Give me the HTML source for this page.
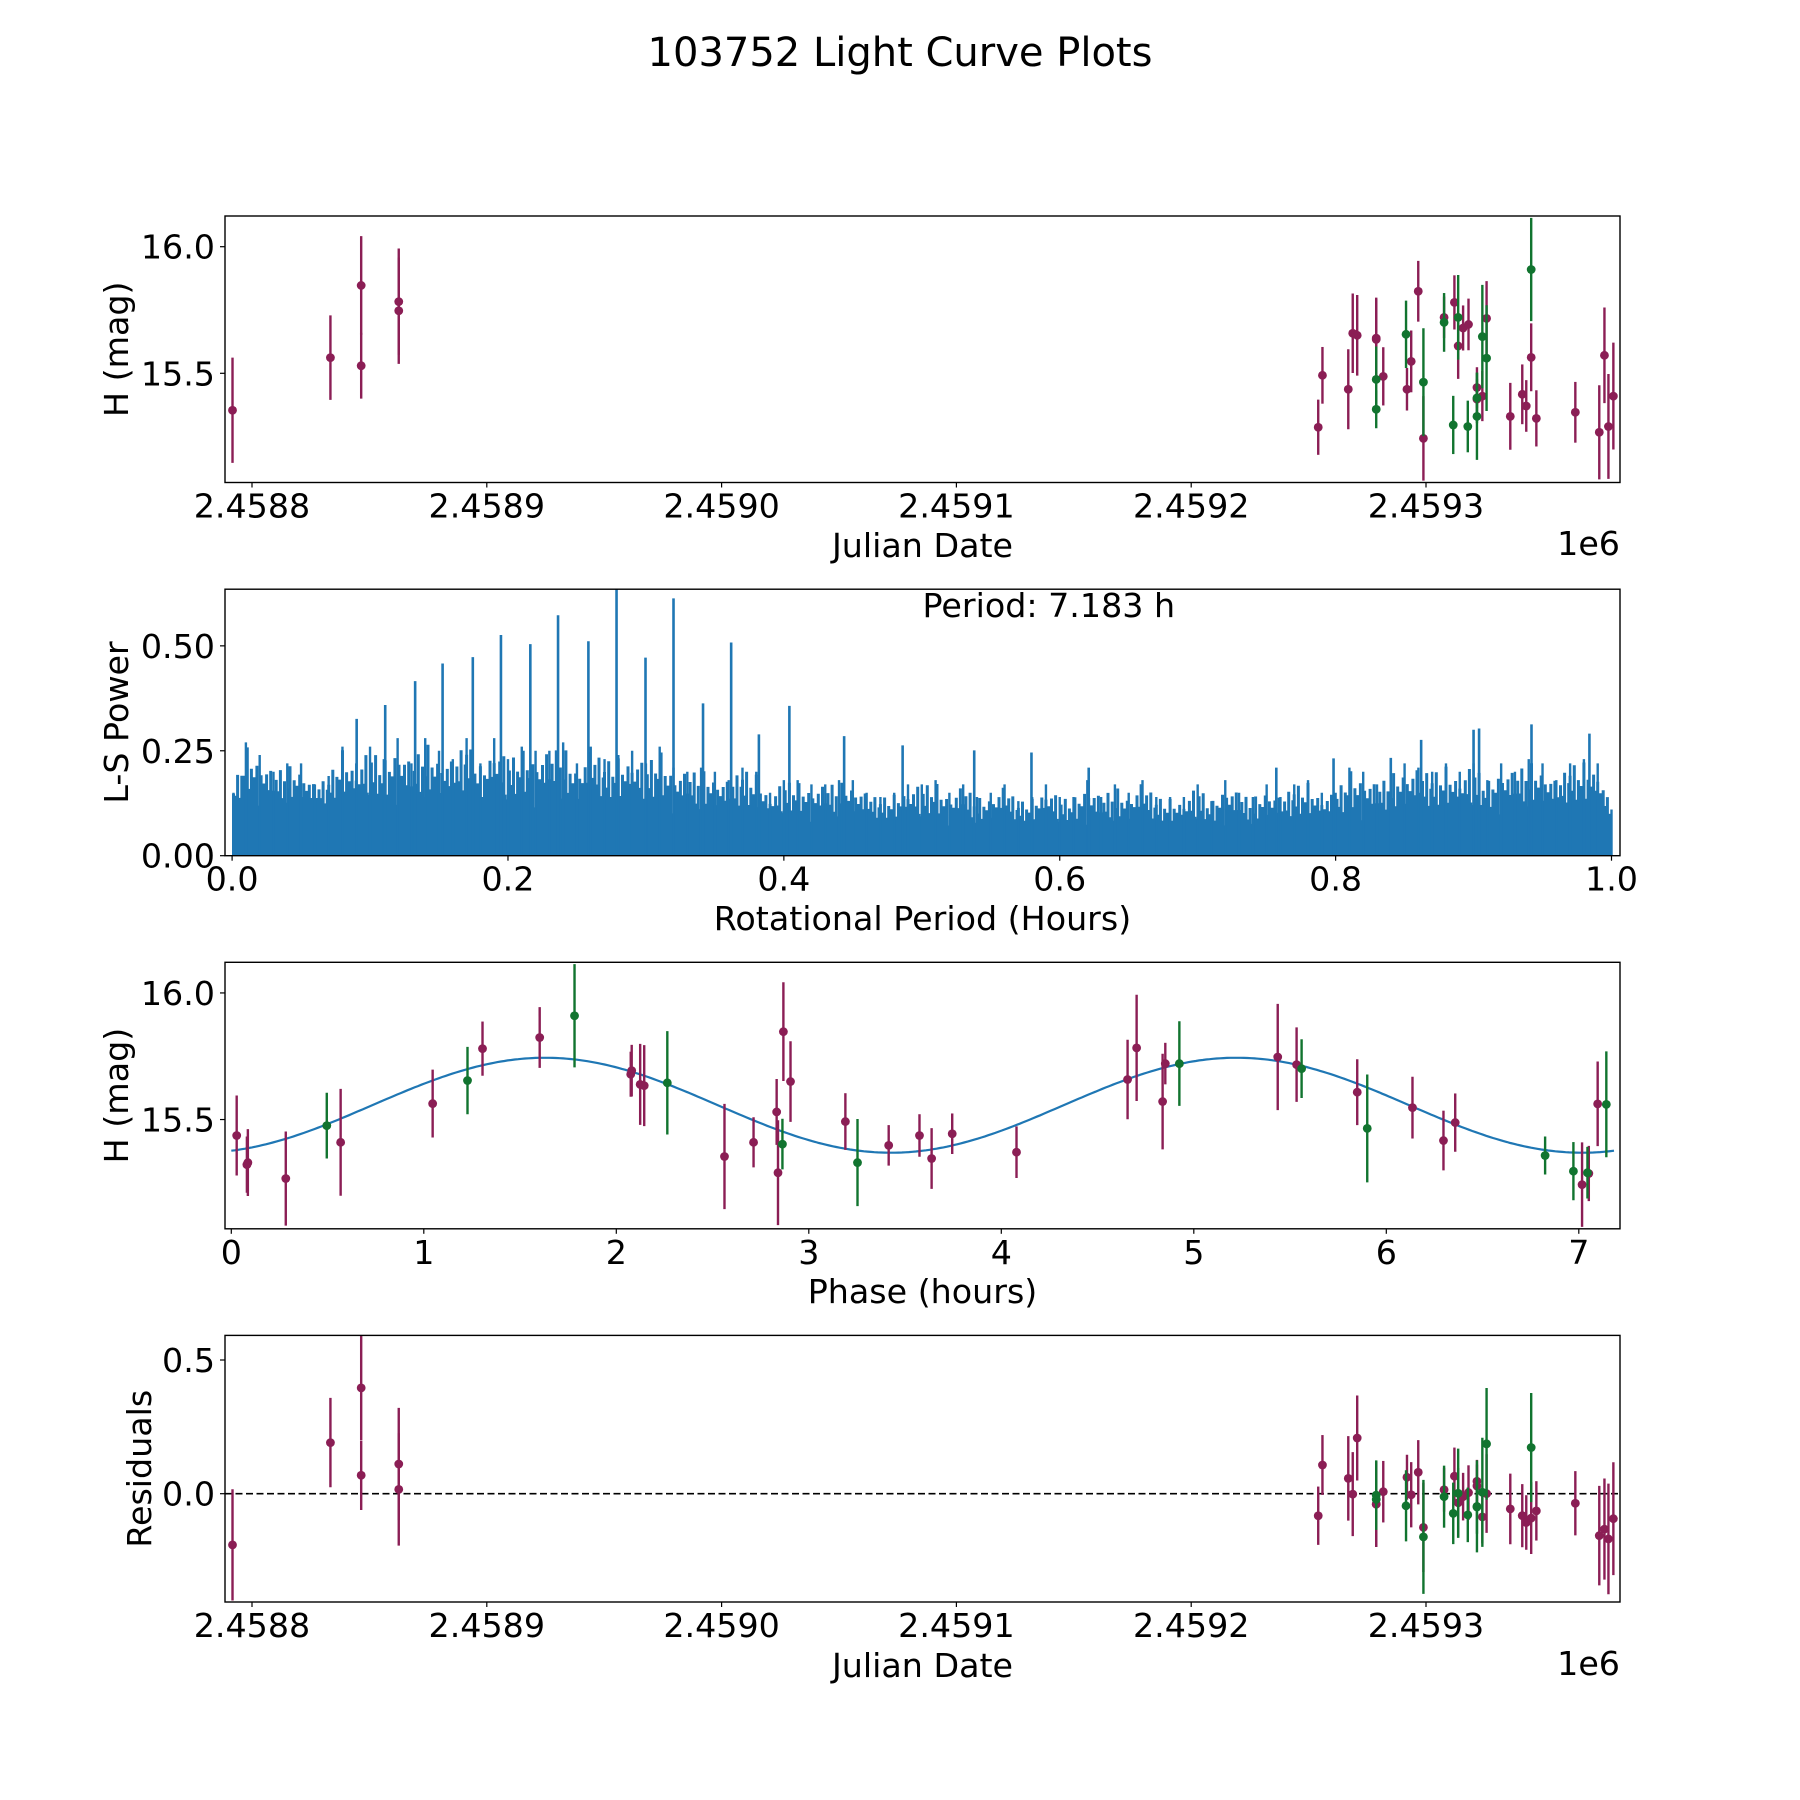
<!DOCTYPE html>
<html><head><meta charset="utf-8"><style>
html,body{margin:0;padding:0;background:#fff;}
svg{display:block;font-family:"DejaVu Sans","Liberation Sans",sans-serif;}
</style></head><body>
<svg id="fig" xmlns="http://www.w3.org/2000/svg" width="1800" height="1800" viewBox="0 0 1800 1800">
<rect x="0" y="0" width="1800" height="1800" fill="#fff"/>
<text x="900" y="66" font-size="40" text-anchor="middle">103752 Light Curve Plots</text>
</svg>
<script>
// ---- observation data (days since JD 2458800) ----
const jdDays = [-8.3,33.4,46.5,46.5,62.5,62.5,
 454.1,455.9,466.9,468.8,470.7,478.8,478.8,481.8,491.9,493.7,496.7,498.9,507.7,512.1,513.7,515.8,518.1,521.7,521.7,524.0,525.8,535.9,541.0,542.7,544.8,547.0,563.6,573.8,576.0,577.7,579.8,
 478.8,478.8,491.5,498.9,507.7,511.6,513.7,517.8,521.7,521.7,524.0,525.8,544.8];
const mags = [15.354,15.562,15.847,15.530,15.783,15.747,
 15.287,15.492,15.437,15.658,15.650,15.639,15.634,15.488,15.437,15.547,15.824,15.243,15.721,15.780,15.608,15.679,15.693,15.444,15.398,15.410,15.717,15.330,15.417,15.371,15.563,15.322,15.346,15.267,15.571,15.290,15.410,
 15.476,15.358,15.654,15.465,15.701,15.296,15.721,15.290,15.330,15.403,15.645,15.560,15.910];
const errs = [0.208,0.167,0.195,0.13,0.21,0.21,
 0.109,0.112,0.158,0.157,0.159,0.16,0.16,0.115,0.084,0.122,0.12,0.167,0.082,0.107,0.13,0.089,0.102,0.08,0.08,0.099,0.147,0.132,0.118,0.102,0.134,0.111,0.12,0.186,0.189,0.207,0.211,
 0.13,0.075,0.133,0.213,0.116,0.115,0.167,0.102,0.172,0.1,0.204,0.209,0.204];
const bands = ['m','m','m','m','m','m',
 'm','m','m','m','m','m','m','m','m','m','m','m','m','m','m','m','m','m','m','m','m','m','m','m','m','m','m','m','m','m','m',
 'g','g','g','g','g','g','g','g','g','g','g','g','g'];
const phases = [2.562,7.098,2.868,2.833,4.703,5.436,
 7.052,3.190,0.028,4.656,2.905,2.124,2.145,6.358,3.575,6.136,1.602,7.017,4.852,1.305,5.849,2.075,2.080,3.745,3.415,2.713,5.534,0.086,6.297,4.079,1.046,0.081,3.638,0.283,4.838,2.840,0.568,
 0.496,6.825,1.227,5.901,5.560,6.972,4.925,7.045,3.253,2.863,2.265,7.143,1.783];
// model: [mean, amplitude, peak phase, half period]
const modelParams = [15.5565, 0.1875, 1.63, 3.5915];
const rotPeriod = [7.183];
// ---- periodogram ----
const lsMinor = [0.15,0.27,0.24,0.20,0.22,0.22,0.17,0.19,0.26,0.22,0.26,0.23,0.28,0.22,0.28,0.25,0.23,0.28,0.22,0.28,0.23,0.26,0.25,0.25,0.27,0.22,0.26,0.23,0.24,0.25,0.22,0.26,0.21,0.20,0.21,0.20,0.18,0.21,0.20,0.15,0.18,0.18,0.17,0.17,0.18,0.18,0.15,0.14,0.15,0.17,0.17,
 0.18,0.15,0.17,0.14,0.15,0.17,0.13,0.14,0.17,0.14,0.14,0.18,0.14,0.17,0.15,0.18,0.14,0.14,0.14,0.17,0.13,0.18,0.15,0.14,0.17,0.14,0.17,0.18,0.15,0.15,0.21,0.20,0.17,0.20,0.22,0.21,0.20,0.22,0.20,0.22,0.18,0.22,0.20,0.23,0.22,0.18,0.22,0.23,0.22,0.11];
const lsDense = [0.12,0.11,0.11,0.10,0.08,0.07,0.065,0.06,0.07,0.09,0.10];
const spikePeriods = [0.0903,0.111,0.1327,0.1526,0.1745,0.1949,0.2162,0.2363,0.2583,0.2787,0.2997,0.320,0.3414,0.3618,0.3819,0.404,0.4437,0.4861,0.538,0.5795,0.621,0.757,0.7985,0.84,0.862,0.900,0.904,0.942,0.984];
const spikePowers = [0.326,0.359,0.416,0.458,0.473,0.526,0.504,0.573,0.511,0.64,0.472,0.613,0.363,0.508,0.289,0.357,0.285,0.263,0.251,0.246,0.210,0.210,0.232,0.233,0.276,0.300,0.303,0.313,0.291];
// relative heights of the fine texture between each pair of readings (visual pattern)
const lsTexture = [0.35,0.8,0.2,0.55,0.95,0.4,0.15,0.7,0.3,0.6];
const jdTicks = [0,100,200,300,400,500];
const jdTickLabels = ['2.4588','2.4589','2.4590','2.4591','2.4592','2.4593'];
const magTicks = [15.5,16.0];
const magTickLabels = ['15.5','16.0'];
const lsXTicks = [0,0.2,0.4,0.6,0.8,1.0];
const lsXTickLabels = ['0.0','0.2','0.4','0.6','0.8','1.0'];
const lsYTicks = [0,0.25,0.5];
const lsYTickLabels = ['0.00','0.25','0.50'];
const phTicks = [0,1,2,3,4,5,6,7];
const phTickLabels = ['0','1','2','3','4','5','6','7'];
const resTicks = [0,0.5];
const resTickLabels = ['0.0','0.5'];

const NS='http://www.w3.org/2000/svg';
const svg=document.getElementById('fig');
const L=225,R=1620;
const P1={t:216,b:482.5},P2={t:589.2,b:855.7},P3={t:962.3,b:1228.8},P4={t:1335.4,b:1602};
const xJD=d=>252+d*2.348;
const yMag1=m=>246.7+(16-m)*253.2;
const xPh=p=>231.3+p*192.5;
const yMag3=m=>P3.t+(16.121-m)*253.2;
const xLS=p=>232.1+p*1379.4;
const yLS=v=>855.7-v*419.7;
const yRes=r=>1493.7-r*267.4;
const COL={m:'#8b1e55',g:'#11742f'};
const BLUE='#1f77b4';
const FS=33.3;
function mk(tag,attrs,parent){const e=document.createElementNS(NS,tag);for(const k in attrs)e.setAttribute(k,attrs[k]);(parent||svg).appendChild(e);return e;}
function model(ph){return modelParams[0]+modelParams[1]*Math.cos(2*Math.PI*(ph-modelParams[2])/modelParams[3]);}

const defs=mk('defs',{});
[['c1',P1],['c2',P2],['c3',P3],['c4',P4]].forEach(([id,p])=>{const cp=mk('clipPath',{id:id},defs);mk('rect',{x:L,y:p.t,width:R-L,height:p.b-p.t},cp);});

function frame(p,name){
  const r=mk('rect',{x:L,y:p.t,width:R-L,height:p.b-p.t,fill:'none',stroke:'#000','stroke-width':1.4});
  
  
}
function xticks(p,vals,labels,fx,name){
  const g=mk('g',{});
  
  
  vals.forEach((v,i)=>{const x=fx(v);
    mk('line',{x1:x,x2:x,y1:p.b,y2:p.b+5,stroke:'#000','stroke-width':1.2},g);
    const t=mk('text',{x:x,y:p.b+35,'font-size':FS,'text-anchor':'middle'},g);
    
    
    t.textContent=labels[i];});
}
function yticks(p,vals,labels,fy,name){
  const g=mk('g',{});
  
  
  vals.forEach((v,i)=>{const y=fy(v);
    mk('line',{x1:L-5,x2:L,y1:y,y2:y,stroke:'#000','stroke-width':1.2},g);
    const t=mk('text',{x:L-10,y:y+12,'font-size':FS,'text-anchor':'end'},g);
    
    
    t.textContent=labels[i];});
}
function label(x,y,txt,name,rot,anchor){
  const t=mk('text',{x:x,y:y,'font-size':FS,'text-anchor':anchor||'middle'});
  if(rot)t.setAttribute('transform','rotate(-90 '+x+' '+y+')');
  
  
  t.textContent=txt;
}
function errPoint(g,x,y,yTop,yBot,color){
  mk('line',{x1:x,x2:x,y1:yTop,y2:yBot,stroke:color,'stroke-width':2.4},g);
  const c=mk('circle',{cx:x,cy:y,r:4.4,fill:color},g);
  
  
}

// ---- Panel 1: light curve vs JD ----
const g1=mk('g',{'clip-path':'url(#c1)'});


jdDays.forEach((d,i)=>errPoint(g1,xJD(d),yMag1(mags[i]),yMag1(mags[i]+errs[i]),yMag1(mags[i]-errs[i]),COL[bands[i]]));
frame(P1,'light-curve-panel');
xticks(P1,jdTicks,jdTickLabels,xJD,'light-curve');
yticks(P1,magTicks,magTickLabels,yMag1,'light-curve');
label(L+(R-L)/2,557,'Julian Date','x-axis-title-jd');
label(R,555,'1e6','x-offset-label-1',false,'end');
label(128,P1.t+(P1.b-P1.t)/2,'H (mag)','y-axis-title-mag',true);

// ---- Panel 2: periodogram ----
const g2=mk('g',{'clip-path':'url(#c2)'});


function denseAt(p){const k=p*10,i=Math.min(9,Math.floor(k)),f=k-i;return lsDense[i]*(1-f)+lsDense[i+1]*f;}
let dpath='M'+xLS(0.001)+','+yLS(0);
for(let i=0;i<=100;i++){const p=Math.max(0.001,i/100);dpath+=' L'+xLS(p).toFixed(1)+','+yLS(denseAt(p)).toFixed(1);}
dpath+=' L'+xLS(1)+','+yLS(0)+' Z';
const dense=mk('path',{d:dpath,fill:BLUE},g2);


let tex='';
for(let i=0;i<100;i++){
  const a=lsMinor[i],b=lsMinor[i+1];
  for(let j=0;j<10;j++){
    const p=Math.max(0.001,i/100+j/1000);
    const top=a+(b-a)*j/10;
    const d=denseAt(p);
    const h=d*0.75+(top-d*0.75)*lsTexture[(j+i*3)%10];
    tex+='M'+xLS(p).toFixed(1)+','+yLS(0).toFixed(1)+'V'+yLS(h).toFixed(1);
  }
}
const texture=mk('path',{d:tex,stroke:BLUE,'stroke-width':3,fill:'none'},g2);


lsMinor.forEach((v,i)=>{const p=Math.max(0.001,i/100);
  const ln=mk('line',{x1:xLS(p),x2:xLS(p),y1:yLS(0),y2:yLS(v),stroke:BLUE,'stroke-width':2.4},g2);
  
  
});
spikePeriods.forEach((p,i)=>{
  const ln=mk('line',{x1:xLS(p),x2:xLS(p),y1:yLS(0),y2:yLS(spikePowers[i]),stroke:BLUE,'stroke-width':2.6},g2);
  
  
});
frame(P2,'periodogram-panel');
xticks(P2,lsXTicks,lsXTickLabels,xLS,'periodogram');
yticks(P2,lsYTicks,lsYTickLabels,yLS,'periodogram');
label(L+(R-L)/2,930,'Rotational Period (Hours)','x-axis-title-period');
label(128,P2.t+(P2.b-P2.t)/2,'L-S Power','y-axis-title-power',true);
label(922.5,617,'Period: '+rotPeriod[0].toFixed(3)+' h','period-annotation',false,'start');

// ---- Panel 3: phased light curve ----
const g3=mk('g',{'clip-path':'url(#c3)'});


let mp='';
for(let i=0;i<=400;i++){const ph=rotPeriod[0]*i/400;mp+=(i?' L':'M')+xPh(ph).toFixed(1)+','+yMag3(model(ph)).toFixed(1);}
const curve=mk('path',{d:mp,fill:'none',stroke:BLUE,'stroke-width':2.2},g3);


phases.forEach((p,i)=>errPoint(g3,xPh(p),yMag3(mags[i]),yMag3(mags[i]+errs[i]),yMag3(mags[i]-errs[i]),COL[bands[i]]));
frame(P3,'phase-panel');
xticks(P3,phTicks,phTickLabels,xPh,'phase');
yticks(P3,magTicks,magTickLabels,yMag3,'phase');
label(L+(R-L)/2,1303,'Phase (hours)','x-axis-title-phase');
label(128,P3.t+(P3.b-P3.t)/2,'H (mag)','y-axis-title-phase-mag',true);

// ---- Panel 4: residuals ----
const g4=mk('g',{'clip-path':'url(#c4)'});


const zl=mk('line',{x1:L,x2:R,y1:yRes(0),y2:yRes(0),stroke:'#000','stroke-width':1.7,'stroke-dasharray':'7,3.5'},g4);


jdDays.forEach((d,i)=>{const r=mags[i]-model(phases[i]);errPoint(g4,xJD(d),yRes(r),yRes(r+errs[i]),yRes(r-errs[i]),COL[bands[i]]);});
frame(P4,'residual-panel');
xticks(P4,jdTicks,jdTickLabels,xJD,'residual');
yticks(P4,resTicks,resTickLabels,yRes,'residual');
label(L+(R-L)/2,1677,'Julian Date','x-axis-title-jd-residual');
label(R,1675,'1e6','x-offset-label-4',false,'end');
label(151,P4.t+(P4.b-P4.t)/2,'Residuals','y-axis-title-residuals',true);
</script>
</body></html>
